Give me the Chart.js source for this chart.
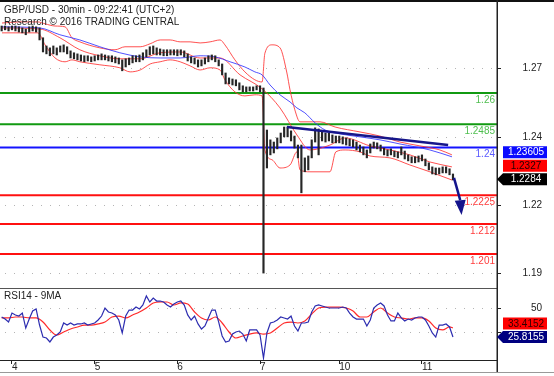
<!DOCTYPE html>
<html><head><meta charset="utf-8">
<script src="https://cdn.jsdelivr.net/npm/chart.js@4.4.1/dist/chart.umd.min.js"></script>
<style>
html,body{margin:0;padding:0;background:#fff;overflow:hidden}
#wrap{position:relative;width:554px;height:376px}
#c1{position:absolute;left:0;top:0}
#c2{position:absolute;left:0;top:288px}
</style></head>
<body><div id="wrap"><canvas id="c1" width="554" height="288"></canvas><canvas id="c2" width="554" height="88"></canvas></div>
<script>
// ---------- DATA ----------
const titleLine1 = 'GBP/USD - 30min - 09:22:41 (UTC+2)';
const titleLine2 = 'Research \u00A9 2016 TRADING CENTRAL';
const rsiTitle = 'RSI14 - 9MA';

// hourly bars, first bar at hour -3 (hour 0 = start of the 4th)
const firstBarHour = -3;
const barHigh = [
 1.2845,1.2845,1.2842,1.2845,1.2845,1.2842,1.2838,1.2834,1.2842,1.2845,1.2842,
 1.2838,1.2802,1.2772,1.2765,1.2772,1.2765,1.2772,1.2776,1.2769,1.2754,1.2747,
 1.2743,1.2739,1.2736,1.2736,1.2732,1.2736,1.2739,1.2743,1.2739,1.2736,1.2736,
 1.2732,1.2728,1.2721,1.2725,1.2728,1.2736,1.2736,1.2739,1.2747,1.2758,1.2769,
 1.2772,1.2765,1.2761,1.2758,1.2758,1.2758,1.2758,1.2758,1.2758,1.2754,1.2743,
 1.2732,1.2728,1.2721,1.2721,1.2728,1.2736,1.2739,1.2736,1.2721,1.2706,1.2673,
 1.2655,1.2651,1.2648,1.2637,1.2626,1.2622,1.2622,1.2622,1.2626,1.2626,1.2618,
 1.2464,1.2428,1.2420,1.2435,1.2453,1.2475,1.2475,1.2461,1.2442,1.2409,1.2409,
 1.2362,1.2369,1.2428,1.2472,1.2468,1.2461,1.2453,1.2453,1.2446,1.2442,1.2442,
 1.2439,1.2435,1.2431,1.2428,1.2420,1.2409,1.2402,1.2391,1.2413,1.2420,1.2417,
 1.2409,1.2398,1.2391,1.2395,1.2387,1.2384,1.2402,1.2387,1.2373,1.2366,1.2366,
 1.2369,1.2373,1.2358,1.2344,1.2329,1.2325,1.2325,1.2329,1.2329,1.2322,1.2303
];
const barLow = [
 1.2827,1.2831,1.2827,1.2831,1.2827,1.2823,1.2820,1.2813,1.2823,1.2827,1.2823,
 1.2794,1.2750,1.2743,1.2736,1.2743,1.2739,1.2750,1.2750,1.2743,1.2728,1.2725,
 1.2721,1.2717,1.2714,1.2717,1.2714,1.2717,1.2721,1.2721,1.2721,1.2717,1.2714,
 1.2710,1.2706,1.2681,1.2695,1.2703,1.2710,1.2714,1.2714,1.2721,1.2732,1.2739,
 1.2743,1.2739,1.2739,1.2736,1.2736,1.2739,1.2739,1.2736,1.2739,1.2732,1.2717,
 1.2710,1.2706,1.2695,1.2699,1.2706,1.2714,1.2721,1.2714,1.2699,1.2666,1.2633,
 1.2633,1.2629,1.2626,1.2611,1.2604,1.2604,1.2607,1.2607,1.2611,1.2604,1.1940,
 1.2325,1.2373,1.2380,1.2395,1.2417,1.2439,1.2439,1.2424,1.2398,1.2362,1.2234,
 1.2311,1.2318,1.2362,1.2420,1.2373,1.2424,1.2420,1.2424,1.2417,1.2417,1.2417,
 1.2413,1.2409,1.2406,1.2402,1.2391,1.2384,1.2373,1.2362,1.2380,1.2398,1.2395,
 1.2387,1.2373,1.2369,1.2373,1.2366,1.2362,1.2373,1.2358,1.2351,1.2344,1.2344,
 1.2347,1.2351,1.2333,1.2318,1.2303,1.2300,1.2303,1.2307,1.2307,1.2300,1.2281
];

// Bollinger bands and moving average (hour, price)
const upperX = [-2.9,2.3,7.5,9.6,12.5,15.4,17.4,19.7,25.5,29.9,32.8,37.2,40.1,43.0,45.9,48.8,51.7,54.6,57.5,60.4,61.8,64.7,67.6,70.5,72.6,73.4,75.5,77.8,79.8,80.7,82.1,83.6,89.4,93.8,101.0,106.8,112.6,118.4,124.2,127.7];
const upperY = [1.2856,1.2860,1.2860,1.2853,1.2845,1.2842,1.2802,1.2787,1.2765,1.2758,1.2769,1.2769,1.2780,1.2794,1.2794,1.2787,1.2787,1.2783,1.2787,1.2794,1.2776,1.2721,1.2677,1.2648,1.2640,1.2745,1.2776,1.2765,1.2673,1.2611,1.2538,1.2494,1.2494,1.2475,1.2457,1.2442,1.2420,1.2406,1.2391,1.2373];
const middleX = [-2.9,8.1,13.9,19.7,25.5,31.3,37.2,43.0,48.8,54.6,60.4,66.2,72.6,77.8,82.7,86.5,92.3,96.7,103.9,109.7,115.5,121.3,127.7];
const middleY = [1.2838,1.2834,1.2802,1.2758,1.2736,1.2725,1.2725,1.2747,1.2750,1.2728,1.2728,1.2666,1.2615,1.2545,1.2446,1.2391,1.2409,1.2435,1.2406,1.2391,1.2373,1.2347,1.2329];
const lowerX = [-2.9,7.5,9.6,12.5,15.4,17.4,19.7,25.5,31.3,34.3,37.2,40.1,43.0,45.9,48.8,51.7,54.6,57.5,60.4,61.8,64.7,67.6,70.5,72.6,73.4,75.5,77.8,80.7,82.7,83.6,86.5,92.3,94.0,96.7,101.0,103.9,109.7,115.5,121.3,127.7];
const lowerY = [1.2820,1.2820,1.2776,1.2728,1.2714,1.2721,1.2714,1.2703,1.2692,1.2677,1.2684,1.2706,1.2714,1.2721,1.2714,1.2699,1.2684,1.2692,1.2684,1.2648,1.2604,1.2589,1.2593,1.2589,1.2391,1.2355,1.2325,1.2336,1.2384,1.2318,1.2311,1.2311,1.2384,1.2391,1.2384,1.2369,1.2362,1.2336,1.2311,1.2281];
const maX = [-2.9,8.1,13.9,19.7,25.5,31.3,37.2,43.0,48.8,54.6,58.9,63.3,67.6,70.5,72.6,74.9,77.8,80.7,82.7,85.0,88.0,90.9,95.2,101.0,106.8,112.6,121.3,127.7];
const maY = [1.2842,1.2838,1.2813,1.2794,1.2769,1.2747,1.2732,1.2728,1.2728,1.2736,1.2732,1.2714,1.2695,1.2677,1.2666,1.2629,1.2593,1.2567,1.2545,1.2527,1.2490,1.2464,1.2450,1.2439,1.2428,1.2413,1.2391,1.2366];

// resistance trend line and forecast arrow (hour, price)
const trendX = [79.8,126.6];
const trendY = [1.2475,1.2409];
const arrowX = [128.3,130.1];
const arrowY = [1.2289,1.2207];
const arrowTip = [130.5,1.2153];

// horizontal levels
const levelValues = [1.26,1.2485,1.24,1.2225,1.212,1.201];
const levelLabels = ['1.26','1.2485','1.24','1.2225','1.212','1.201'];
const levelKinds  = ['g','g','b','r','r','r'];

// price axis ticks
const priceTickValues = [1.194,1.219,1.244,1.269];
const priceTickLabels = ['1.19','1.22','1.24','1.27'];

// last values shown as badges
const priceBadgeValues = [1.23605,1.2327,1.2284];
const priceBadgeLabels = ['1.23605','1.2327','1.2284'];

// RSI (hourly, same hours as bars)
const rsiLine = [
 42.5,40.8,38.3,45.8,44.2,43.3,45.8,33.3,40.8,47.5,49.2,
 35.8,25.8,25.0,21.7,25.8,27.5,30.0,37.5,35.8,37.5,35.8,
 36.7,36.7,37.5,35.8,36.7,37.5,40.0,43.3,50.0,46.7,45.8,
 44.2,40.0,29.2,43.3,48.3,48.3,50.8,49.2,52.5,60.0,55.0,
 58.3,55.8,55.8,55.0,52.5,50.8,53.3,55.0,55.8,52.5,44.2,
 40.0,43.3,36.7,32.5,35.0,41.7,48.3,48.3,38.3,26.7,21.7,
 22.5,28.3,30.0,30.8,28.3,22.5,31.7,31.7,31.7,27.5,8.3,
 29.2,37.5,38.3,40.0,42.5,41.7,40.8,43.3,35.0,30.8,37.5,
 37.5,38.3,46.7,51.7,52.5,51.7,50.8,50.0,50.0,50.0,50.0,
 50.8,50.0,45.8,42.5,40.8,40.8,40.8,35.0,40.0,50.0,52.5,
 54.2,51.7,44.2,39.2,39.2,45.8,41.7,39.2,40.8,40.0,41.7,
 42.5,42.5,40.0,35.0,29.2,25.8,35.8,35.8,36.7,34.2,25.8155
];
const rsiMaHours = [-3,-1,1,3,5,7,9,11,13,15,17,19,21,23,25,27,29,31,33,35,37,39,41,43,45,47,49,51,53,55,57,59,61,63,65,67,69,71,73,75,77,79,81,83,85,87,89,91,93,95,97,99,101,103,105,107,109,111,113,115,117,119,121,123,125,127,128];
const rsiMa = [41.7,41.7,42.5,42.5,41.7,41.7,38.3,31.7,27.5,30,32.5,34.2,35.8,35.8,36.7,38.3,42.5,43.3,41.7,44.2,46.7,50,54.2,55,55,52.5,54.2,53.3,46.7,41.7,40,42.5,37.5,30,25,26.7,28.3,29.2,28.3,29.2,33.3,37.5,38.3,37.5,39.2,45,50,50.8,50.8,50.8,50,47.5,42.5,42.5,46.7,50,45.8,42.5,41.7,40.8,41.7,41.7,39.2,33.3,31.7,34.2,33.4152];
const rsiTickValues = [30,50];
const rsiTickLabels = ['','50'];
const rsiBadgeValues = [33.4152,25.8155];
const rsiBadgeLabels = ['33.4152','25.8155'];

// time axis
const dayTickHours = [0,24,48,72,95,119];
const dayLabels = ['4','5','6','7','10','11'];
const hourMin = -3.48, hourMax = 140.78;

// ---------- STYLE ----------
const FONT = '"Liberation Sans", Arial, sans-serif';
const levelLineColor = {g:'#119a11', b:'#1414ff', r:'#ff1010'};
const levelTextColor = {g:'#4fbf4f', b:'#5a5aff', r:'#ff3c3c'};
const pts = (xs, ys) => xs.map((x, i) => ({x, y: ys[i]}));

function dottedRow(ctx, a, py){
  ctx.fillStyle = '#b4b4b4';
  for (let px = a.left + 5; px < a.right - 1; px += 9) ctx.fillRect(px, Math.round(py), 1, 1);
}
function badge(ctx, text, cy, bg, fg, pointer){
  const l = 503, r = 547, h = 12;
  ctx.fillStyle = bg;
  ctx.beginPath();
  if (pointer){ ctx.moveTo(497, cy); ctx.lineTo(l, cy - h/2); }
  else ctx.moveTo(l, cy - h/2);
  ctx.lineTo(r, cy - h/2); ctx.lineTo(r, cy + h/2); ctx.lineTo(l, cy + h/2);
  ctx.closePath(); ctx.fill();
  ctx.fillStyle = fg; ctx.font = '10px ' + FONT; ctx.textAlign = 'center'; ctx.textBaseline = 'middle';
  ctx.fillText(text, (l + r) / 2 + 1, cy + 0.5);
}
function stackBadges(pixels, gap){
  const out = pixels.slice();
  for (let i = out.length - 2; i >= 0; i--) if (out[i] > out[i+1] - gap) out[i] = out[i+1] - gap;
  return out;
}

const mainDeco = {
  id: 'mainDeco',
  beforeDatasetsDraw(chart){
    const {ctx, chartArea: a, scales: {y}} = chart;
    ctx.save();
    priceTickValues.forEach(v => dottedRow(ctx, a, y.getPixelForValue(v)));
    levelValues.forEach((v, i) => {
      const py = y.getPixelForValue(v);
      ctx.strokeStyle = levelLineColor[levelKinds[i]]; ctx.lineWidth = 2;
      ctx.beginPath(); ctx.moveTo(a.left, py); ctx.lineTo(a.right, py); ctx.stroke();
    });
    ctx.restore();
  },
  afterDatasetsDraw(chart){
    const {ctx, chartArea: a, scales: {x, y}} = chart;
    ctx.save();
    // arrow head
    const bx = x.getPixelForValue(arrowX[1]), by = y.getPixelForValue(arrowY[1]);
    const tx = x.getPixelForValue(arrowTip[0]), ty = y.getPixelForValue(arrowTip[1]);
    const dx = tx - bx, dy = ty - by, len = Math.hypot(dx, dy), nx = -dy / len, ny = dx / len;
    ctx.fillStyle = '#14148c';
    ctx.beginPath(); ctx.moveTo(tx, ty); ctx.lineTo(bx + nx * 5.5, by + ny * 5.5); ctx.lineTo(bx - nx * 5.5, by - ny * 5.5); ctx.closePath(); ctx.fill();
    // level labels
    ctx.font = '10px ' + FONT; ctx.textAlign = 'right'; ctx.textBaseline = 'middle';
    levelValues.forEach((v, i) => {
      ctx.fillStyle = levelTextColor[levelKinds[i]];
      ctx.fillText(levelLabels[i], a.right - 2, y.getPixelForValue(v) + 7);
    });
    ctx.restore();
  },
  afterDraw(chart){
    const {ctx, chartArea: a, scales: {y}} = chart;
    ctx.save();
    // titles
    ctx.font = '10px ' + FONT; ctx.fillStyle = '#222'; ctx.textAlign = 'left'; ctx.textBaseline = 'alphabetic';
    ctx.fillText(titleLine1, 4, 13);
    ctx.fillText(titleLine2, 4, 25);
    // top border and axis line
    ctx.fillStyle = '#111'; ctx.fillRect(0, 0, 554, 2);
    ctx.fillStyle = '#222'; ctx.fillRect(a.right - 0.5, 0, 1.5, chart.height);
    // ticks and labels
    ctx.font = '10px ' + FONT;
    ctx.strokeStyle = '#222'; ctx.lineWidth = 1;
    ctx.textAlign = 'right'; ctx.textBaseline = 'middle'; ctx.fillStyle = '#222';
    priceTickValues.forEach((v, i) => {
      const py = Math.round(y.getPixelForValue(v)) + 0.5;
      ctx.beginPath(); ctx.moveTo(a.right, py); ctx.lineTo(a.right + 4, py); ctx.stroke();
      ctx.fillText(priceTickLabels[i], 542, py);
    });
    // badges
    const px = stackBadges(priceBadgeValues.map(v => y.getPixelForValue(v)), 13.5);
    badge(ctx, priceBadgeLabels[0], px[0], '#0a0aff', '#fff', false);
    badge(ctx, priceBadgeLabels[1], px[1], '#ff0000', '#200', false);
    badge(ctx, priceBadgeLabels[2], px[2], '#000', '#fff', true);
    ctx.restore();
  }
};

const rsiDeco = {
  id: 'rsiDeco',
  beforeDatasetsDraw(chart){
    const {ctx, chartArea: a, scales: {y}} = chart;
    ctx.save();
    rsiTickValues.forEach(v => dottedRow(ctx, a, y.getPixelForValue(v)));
    ctx.restore();
  },
  afterDraw(chart){
    const {ctx, chartArea: a, scales: {y}} = chart;
    ctx.save();
    ctx.fillStyle = '#555'; ctx.fillRect(0, 0, a.right, 1);
    ctx.fillStyle = '#999'; ctx.fillRect(0, 84, 554, 1);
    ctx.fillStyle = '#222'; ctx.fillRect(a.right - 0.5, 0, 1.5, 84);
    ctx.font = '10px ' + FONT; ctx.fillStyle = '#222'; ctx.textAlign = 'left'; ctx.textBaseline = 'alphabetic';
    ctx.fillText(rsiTitle, 4, 11);
    ctx.strokeStyle = '#222'; ctx.lineWidth = 1; ctx.textAlign = 'right'; ctx.textBaseline = 'middle';
    rsiTickValues.forEach((v, i) => {
      const py = Math.round(y.getPixelForValue(v)) + 0.5;
      ctx.beginPath(); ctx.moveTo(a.right, py); ctx.lineTo(a.right + 4, py); ctx.stroke();
      if (rsiTickLabels[i]) ctx.fillText(rsiTickLabels[i], 542, py);
    });
    const px = stackBadges(rsiBadgeValues.map(v => y.getPixelForValue(v)), 13.5);
    badge(ctx, rsiBadgeLabels[0], px[0], '#ff0000', '#300', false);
    badge(ctx, rsiBadgeLabels[1], px[1], '#000080', '#fff', true);
    ctx.restore();
  }
};

const common = {responsive:false, animation:false, events:[], plugins:{legend:{display:false}, tooltip:{enabled:false}}};

new Chart(document.getElementById('c1'), {
  type: 'bar',
  data: { datasets: [
    {type:'line', data: pts(upperX, upperY), borderColor:'rgba(255,50,50,0.85)', borderWidth:1, pointRadius:0, cubicInterpolationMode:'monotone', order:4},
    {type:'line', data: pts(middleX, middleY), borderColor:'rgba(255,50,50,0.85)', borderWidth:1, pointRadius:0, cubicInterpolationMode:'monotone', order:4},
    {type:'line', data: pts(lowerX, lowerY), borderColor:'rgba(255,50,50,0.85)', borderWidth:1, pointRadius:0, cubicInterpolationMode:'monotone', order:4},
    {type:'line', data: pts(maX, maY), borderColor:'rgba(50,50,255,0.85)', borderWidth:1, pointRadius:0, cubicInterpolationMode:'monotone', order:3},
    {type:'bar', data: barHigh.map((h, i) => ({x: firstBarHour + i, y: [barLow[i], h]})), backgroundColor:'#262626', barThickness:1.5, grouped:false, order:2},
    {type:'line', data: pts(trendX, trendY), borderColor:'#16168a', borderWidth:2.5, pointRadius:0, order:1},
    {type:'line', data: pts(arrowX, arrowY), borderColor:'#14148c', borderWidth:2.5, pointRadius:0, order:0}
  ]},
  options: Object.assign({}, common, {
    layout: {padding: {top:2, bottom:1, left:0, right:0}},
    scales: {
      x: {type:'linear', display:false, min:hourMin, max:hourMax, offset:false},
      y: {position:'right', min:1.1889, max:1.2933, grid:{display:false}, border:{display:false}, ticks:{display:false}, afterFit(s){ s.width = 57; }}
    }
  }),
  plugins: [mainDeco]
});

new Chart(document.getElementById('c2'), {
  type: 'line',
  data: { datasets: [
    {data: rsiLine.map((v, i) => ({x: firstBarHour + i, y: v})), borderColor:'#2c2cb0', borderWidth:1.2, pointRadius:0, order:1},
    {data: pts(rsiMaHours, rsiMa), borderColor:'#ff2a2a', borderWidth:1.2, pointRadius:0, cubicInterpolationMode:'monotone', order:2}
  ]},
  options: Object.assign({}, common, {
    layout: {padding: {top:1, bottom:0, left:0, right:0}},
    scales: {
      x: {type:'linear', min:hourMin, max:hourMax, offset:false,
          afterBuildTicks(s){ s.ticks = dayTickHours.map(v => ({value:v})); },
          afterFit(s){ s.height = 16; },
          grid:{display:true, drawOnChartArea:false, drawTicks:true, tickLength:4, color:'#222', tickColor:'#222'},
          border:{display:true, color:'#222', width:1},
          ticks:{align:'start', padding:-3, color:'#222', autoSkip:false, maxRotation:0, font:{size:10, family:FONT}, callback:(v, i) => dayLabels[i]}},
      y: {position:'right', min:6.67, max:65.83, grid:{display:false}, border:{display:false}, ticks:{display:false}, afterFit(s){ s.width = 57; }}
    }
  }),
  plugins: [rsiDeco]
});
</script>
</body></html>
